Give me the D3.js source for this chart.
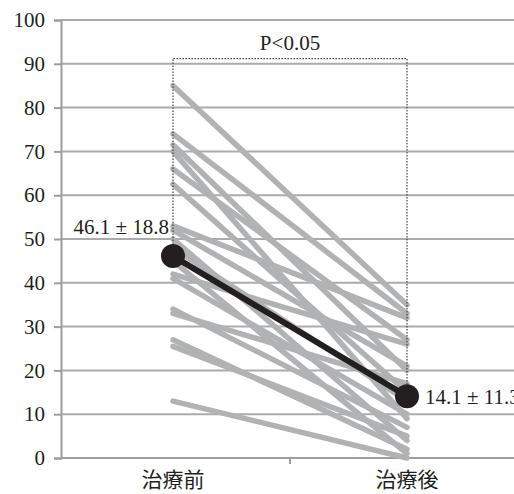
<!DOCTYPE html>
<html>
<head>
<meta charset="utf-8">
<script src="https://cdn.jsdelivr.net/npm/d3@7"></script>
<style>
  body { margin: 0; background: #fff; }
  svg text { font-family: "Liberation Serif", "Noto Sans CJK JP", serif; fill: #231f20; }
</style>
</head>
<body>
<div class="chart"></div>
<script>
const dims = { width: 514, height: 494 };
const margin = { top: 20, right: -10, bottom: 36, left: 61 };

// data
const groups = ["治療前", "治療後"];
const before = [85, 74, 71.5, 70, 66, 62.5, 53, 52, 50, 48, 45, 42, 41, 34, 33, 27, 25.5, 13];
const after  = [35, 33, 20, 9, 27, 15, 32, 21, 4, 13, 1, 26, 10, 7, 17, 2, 5, 0];
const means = [46.1, 14.1];
const sds = [18.8, 11.3];
const yTicks = [0, 10, 20, 30, 40, 50, 60, 70, 80, 90, 100];
const pLabel = "P<0.05";
const bracketTop = 91.2;

const fontSize = 21;

var svg = d3.select(".chart")
            .append("svg")
            .attr("width", dims.width)
            .attr("height", dims.height);

// band scale starts a little left of the y axis so the category centres line up
var x = d3.scaleBand().domain(groups).range([56, dims.width - margin.right]);
var y = d3.scaleLinear().domain([0, 100]).range([dims.height - margin.bottom, margin.top]);
var cx = d => x(d) + x.bandwidth() / 2;

// grid
svg.append("g").selectAll("line").data(yTicks.slice(1)).enter().append("line")
   .attr("x1", margin.left).attr("x2", dims.width)
   .attr("y1", d => y(d)).attr("y2", d => y(d))
   .attr("stroke", "#ababad").attr("stroke-width", 2);

// y axis
const yAxis = svg.append("g").attr("transform", `translate(${margin.left},0)`)
   .call(d3.axisLeft(y).tickValues(yTicks).tickSize(7).tickPadding(9));
yAxis.select(".domain").attr("stroke", "#9d9d9f").attr("stroke-width", 2);
yAxis.selectAll(".tick line").attr("stroke", "#9d9d9f").attr("stroke-width", 2);
yAxis.selectAll(".tick text").attr("font-size", fontSize).attr("font-family", "Liberation Serif").style("fill", "#231f20");

// x axis
const xAxis = svg.append("g").attr("transform", `translate(0,${y(0)})`)
   .call(d3.axisBottom(x).tickSize(0).tickPadding(14));
xAxis.select(".domain").attr("d", `M${margin.left},0H${dims.width}`)
   .attr("stroke", "#9d9d9f").attr("stroke-width", 2);
xAxis.selectAll(".tick text").attr("font-size", fontSize).attr("font-family", "Noto Sans CJK JP").style("fill", "#231f20");
xAxis.append("line").attr("x1", x(groups[1])).attr("x2", x(groups[1]))
   .attr("y1", 0).attr("y2", 6).attr("stroke", "#9d9d9f").attr("stroke-width", 2);

// individual subjects
svg.append("g").selectAll("line").data(before).enter().append("line")
   .attr("x1", cx(groups[0])).attr("x2", cx(groups[1]))
   .attr("y1", d => y(d)).attr("y2", (d, i) => y(after[i]))
   .attr("stroke", "#b1b2b4").attr("stroke-width", 5.5).attr("stroke-linecap", "round");

// significance bracket
svg.append("path")
   .attr("d", `M${cx(groups[0])},${y(means[0])}V${y(bracketTop)}H${cx(groups[1])}V${y(means[1])}`)
   .attr("fill", "none").attr("stroke", "#444").attr("stroke-width", 1.2).attr("stroke-dasharray", "1.5,1.5");
svg.append("text").attr("x", (cx(groups[0]) + cx(groups[1])) / 2).attr("y", y(bracketTop) - 9)
   .attr("text-anchor", "middle").attr("font-size", fontSize).text(pLabel);

// mean line
svg.append("line")
   .attr("x1", cx(groups[0])).attr("x2", cx(groups[1]))
   .attr("y1", y(means[0])).attr("y2", y(means[1]))
   .attr("stroke", "#231f20").attr("stroke-width", 6);
svg.append("g").selectAll("circle").data(means).enter().append("circle")
   .attr("cx", (d, i) => cx(groups[i])).attr("cy", d => y(d)).attr("r", 12)
   .attr("fill", "#231f20");

svg.append("text").attr("x", cx(groups[0]) - 4).attr("y", y(means[0]) - 22)
   .attr("text-anchor", "end").attr("font-size", fontSize).text(`${means[0]} ± ${sds[0]}`);
svg.append("text").attr("x", cx(groups[1]) + 18).attr("y", y(means[1]) + 8)
   .attr("text-anchor", "start").attr("font-size", fontSize).text(`${means[1]} ± ${sds[1]}`);
</script>
</body>
</html>
